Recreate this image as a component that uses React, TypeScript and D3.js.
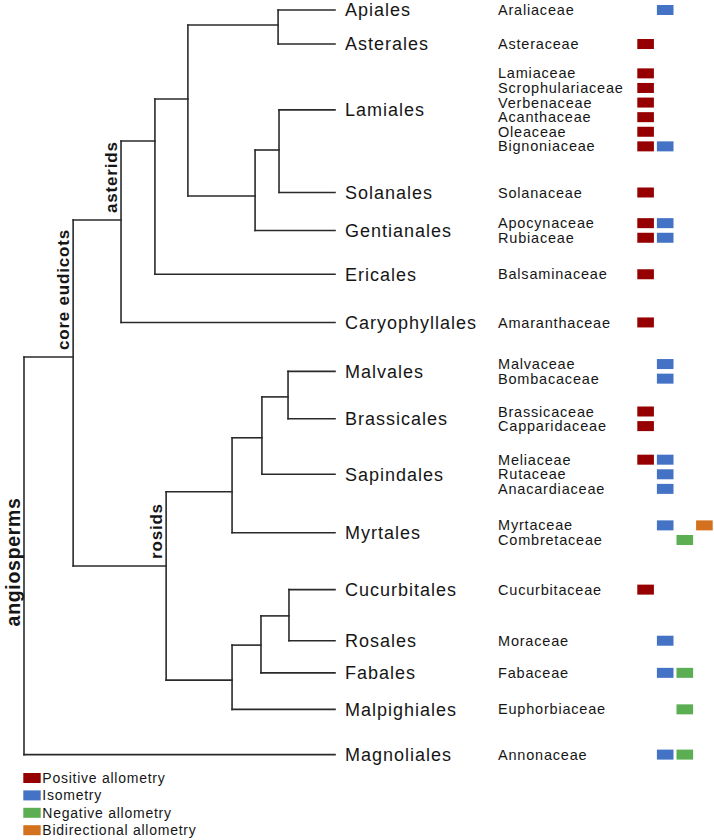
import React from "react";
import * as d3 from "d3";

// ---------- DATA ----------
const allometryKeys = ["pos", "iso", "neg", "bi"];
const allometryLabels = [
  "Positive allometry",
  "Isometry",
  "Negative allometry",
  "Bidirectional allometry",
];
const allometryColors = ["#960000", "#4472C4", "#5BAE52", "#D4711F"];

const orderNames = [
  "Apiales", "Asterales", "Lamiales", "Solanales", "Gentianales", "Ericales",
  "Caryophyllales", "Malvales", "Brassicales", "Sapindales", "Myrtales",
  "Cucurbitales", "Rosales", "Fabales", "Malpighiales", "Magnoliales",
];
const orderParents = [
  "n6", "n6", "n8", "n8", "n7", "n4", "asterids", "r3", "r3", "r2", "r1",
  "r6", "r6", "r5", "r4", "angiosperms",
];

// family name, order, row position (row units), allometry types
const families: [string, string, number, string[]][] = [
  ["Araliaceae", "Apiales", 0, ["iso"]],
  ["Asteraceae", "Asterales", 2.33, ["pos"]],
  ["Lamiaceae", "Lamiales", 4.34, ["pos"]],
  ["Scrophulariaceae", "Lamiales", 5.34, ["pos"]],
  ["Verbenaceae", "Lamiales", 6.34, ["pos"]],
  ["Acanthaceae", "Lamiales", 7.34, ["pos"]],
  ["Oleaceae", "Lamiales", 8.34, ["pos"]],
  ["Bignoniaceae", "Lamiales", 9.34, ["pos", "iso"]],
  ["Solanaceae", "Solanales", 12.5, ["pos"]],
  ["Apocynaceae", "Gentianales", 14.6, ["pos", "iso"]],
  ["Rubiaceae", "Gentianales", 15.6, ["pos", "iso"]],
  ["Balsaminaceae", "Ericales", 18.1, ["pos"]],
  ["Amaranthaceae", "Caryophyllales", 21.4, ["pos"]],
  ["Malvaceae", "Malvales", 24.25, ["iso"]],
  ["Bombacaceae", "Malvales", 25.25, ["iso"]],
  ["Brassicaceae", "Brassicales", 27.5, ["pos"]],
  ["Capparidaceae", "Brassicales", 28.5, ["pos"]],
  ["Meliaceae", "Sapindales", 30.8, ["pos", "iso"]],
  ["Rutaceae", "Sapindales", 31.8, ["iso"]],
  ["Anacardiaceae", "Sapindales", 32.8, ["iso"]],
  ["Myrtaceae", "Myrtales", 35.3, ["iso", "bi"]],
  ["Combretaceae", "Myrtales", 36.3, ["neg"]],
  ["Cucurbitaceae", "Cucurbitales", 39.7, ["pos"]],
  ["Moraceae", "Rosales", 43.2, ["iso"]],
  ["Fabaceae", "Fabales", 45.4, ["iso", "neg"]],
  ["Euphorbiaceae", "Malpighiales", 47.9, ["neg"]],
  ["Annonaceae", "Magnoliales", 51.0, ["iso", "neg"]],
];

// internal nodes: id, parent, relative depth (0 = root, 100 = tips), row, clade label
const internalNodes: [string, string | null, number, number, string][] = [
  ["angiosperms", null, 0, 37.8, "angiosperms"],
  ["coreEudicots", "angiosperms", 15.8, 23.77, "core eudicots"],
  ["asterids", "coreEudicots", 31.2, 14.38, "asterids"],
  ["n4", "asterids", 42.1, 8.97, ""],
  ["n5", "n4", 52.7, 6.1, ""],
  ["n6", "n5", 81.7, 1.03, ""],
  ["n7", "n5", 74.3, 12.74, ""],
  ["n8", "n7", 82.0, 9.59, ""],
  ["rosids", "coreEudicots", 45.7, 38.08, "rosids"],
  ["r1", "rosids", 66.9, 33.0, ""],
  ["r2", "r1", 76.5, 29.3, ""],
  ["r3", "r2", 84.9, 26.5, ""],
  ["r4", "rosids", 66.9, 45.9, ""],
  ["r5", "r4", 76.2, 43.5, ""],
  ["r6", "r5", 85.2, 41.5, ""],
];

// ---------- COMPONENT ----------
type N = { id: string; parent: string | null; depth: number; row: number; label: string; leaf: boolean };

export default function App() {
  const W = 714, H = 840;
  const x = d3.scaleLinear().domain([0, 100]).range([24, 335]);
  const y = d3.scaleLinear().domain([0, 51]).range([10, 754.6]);
  const col = d3
    .scaleBand<string>()
    .domain(allometryKeys)
    .range([637.3, 712.7])
    .paddingInner(0.153)
    .paddingOuter(0);
  const color = d3.scaleOrdinal<string, string>().domain(allometryKeys).range(allometryColors);

  const leafRows = orderNames.map((o) =>
    d3.mean(families.filter((f) => f[1] === o), (f) => f[2]) as number
  );

  const nodes: N[] = [
    ...internalNodes.map(([id, parent, depth, row, label]) => ({ id, parent, depth, row, label, leaf: false })),
    ...orderNames.map((o, i) => ({ id: o, parent: orderParents[i], depth: 100, row: leafRows[i], label: o, leaf: true })),
  ];

  const root = d3
    .stratify<N>()
    .id((d) => d.id)
    .parentId((d) => d.parent)(nodes);

  const all = root.descendants();
  const stroke = "#2a2a2a";
  const sw = 1.6;
  const font = "'Liberation Sans', Arial, sans-serif";
  const textColor = "#161616";

  return (
    <svg
      width={W}
      height={H}
      style={{ position: "absolute", left: 0, top: 0, background: "#fff" }}
      fontFamily={font}
    >
      <rect width={W} height={H} fill="#fff" />
      {/* tree */}
      <g stroke={stroke} strokeWidth={sw} strokeLinecap="square" fill="none">
        {all
          .filter((n) => n.children)
          .map((n) => {
            const ys = n.children!.map((c) => y(c.data.row));
            return (
              <line
                key={"v" + n.id}
                x1={x(n.data.depth)}
                x2={x(n.data.depth)}
                y1={d3.min(ys)}
                y2={d3.max(ys)}
              />
            );
          })}
        {all
          .filter((n) => n.parent)
          .map((n) => (
            <line
              key={"h" + n.id}
              x1={x(n.parent!.data.depth)}
              x2={x(n.data.depth)}
              y1={y(n.data.row)}
              y2={y(n.data.row)}
            />
          ))}
      </g>
      {/* clade labels */}
      {all
        .filter((n) => !n.data.leaf && n.data.label)
        .map((n) => {
          const isRoot = !n.parent;
          const tx = x(n.data.depth) - 4;
          const ty = isRoot ? y(n.data.row) : y(n.data.row) - 7;
          return (
            <text
              key={"c" + n.id}
              transform={`translate(${tx},${ty}) rotate(-90)`}
              textAnchor={isRoot ? "middle" : "start"}
              fontWeight="bold"
              fontSize={isRoot ? 19.5 : 17}
              letterSpacing={isRoot ? 0.7 : 0.8}
              fill={textColor}
            >
              {n.data.label}
            </text>
          );
        })}
      {/* order labels */}
      {all
        .filter((n) => n.data.leaf)
        .map((n) => (
          <text
            key={"o" + n.id}
            x={345}
            y={y(n.data.row)}
            dy="0.35em"
            fontSize={18}
            letterSpacing={1}
            fill={textColor}
          >
            {n.data.label}
          </text>
        ))}
      {/* family labels & boxes */}
      {families.map(([name, , row, types]) => (
        <g key={"f" + name}>
          <text x={498} y={y(row)} dy="0.35em" fontSize={14.5} letterSpacing={0.8} fill={textColor}>
            {name}
          </text>
          {types.map((t) => (
            <rect
              key={t}
              x={col(t)}
              y={y(row) - 5}
              width={col.bandwidth()}
              height={10}
              fill={color(t)}
            />
          ))}
        </g>
      ))}
      {/* legend */}
      {allometryKeys.map((k, i) => {
        const ly = 778 + i * 17.4;
        return (
          <g key={"l" + k}>
            <rect x={23.3} y={ly - 5} width={17.4} height={10} fill={color(k)} />
            <text x={42.3} y={ly} dy="0.35em" fontSize={14} letterSpacing={0.75} fill={textColor}>
              {allometryLabels[i]}
            </text>
          </g>
        );
      })}
    </svg>
  );
}
